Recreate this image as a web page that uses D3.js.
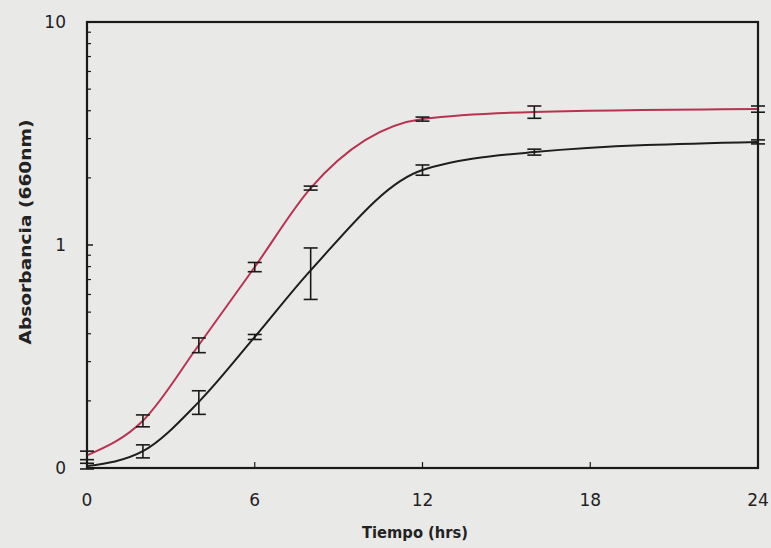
<!DOCTYPE html>
<html><head><meta charset="utf-8">
<script src="https://cdn.jsdelivr.net/npm/d3@7"></script>
<style>
html,body{margin:0;padding:0;background:#e9e9e8;}
svg{display:block;}
</style></head><body>
<script>
const hours = [0, 2, 4, 6, 8, 12, 16, 24];
const redValues = [0.114, 0.163, 0.356, 0.797, 1.80, 3.67, 3.95, 4.07];
const redErrors = [0.005, 0.010, 0.027, 0.038, 0.037, 0.077, 0.25, 0.13];
const blackValues = [0.102, 0.119, 0.198, 0.387, 0.77, 2.17, 2.61, 2.90];
const blackErrors = [0.003, 0.008, 0.024, 0.010, 0.20, 0.115, 0.08, 0.06];
const xTicks = [0, 6, 12, 18, 24];
const yTicks = [0.1, 1, 10];
const yTickLabels = ["0", "1", "10"];
const xTitle = "Tiempo (hrs)";
const yTitle = "Absorbancia (660nm)";

const W = 771, H = 548;
const m = {left: 87, top: 22, right: 13, bottom: 80};
const svg = d3.select("body").append("svg").attr("width", W).attr("height", H);
svg.append("rect").attr("width", W).attr("height", H).attr("fill", "#e9e9e8");

const x = d3.scaleLinear().domain([0, 24]).range([m.left, W - m.right]);
const y = d3.scaleLog().domain([0.1, 10]).range([H - m.bottom, m.top]);

const font = "'DejaVu Sans', 'Open Sans', sans-serif";

// frame
svg.append("rect").attr("x", x(0)).attr("y", y(10))
  .attr("width", x(24) - x(0)).attr("height", y(0.1) - y(10))
  .attr("fill", "none").attr("stroke", "#1a1a1a").attr("stroke-width", 2.2);

// y axis minor ticks (inside)
const minor = [];
[0.1, 1].forEach(d => { for (let k = 2; k <= 9; k++) minor.push(d * k); });
svg.append("g").selectAll("line").data(minor).join("line")
  .attr("x1", x(0)).attr("x2", x(0) + 4)
  .attr("y1", d => y(d)).attr("y2", d => y(d))
  .attr("stroke", "#1a1a1a").attr("stroke-width", 1.2);
svg.append("g").selectAll("line").data([1]).join("line")
  .attr("x1", x(0)).attr("x2", x(0) + 6)
  .attr("y1", d => y(d)).attr("y2", d => y(d))
  .attr("stroke", "#1a1a1a").attr("stroke-width", 1.5);

// x ticks inside
svg.append("g").selectAll("line").data(xTicks.slice(1, 4)).join("line")
  .attr("x1", d => x(d)).attr("x2", d => x(d))
  .attr("y1", y(0.1)).attr("y2", y(0.1) - 6)
  .attr("stroke", "#1a1a1a").attr("stroke-width", 1.2);

// tick labels
svg.append("g").selectAll("text").data(xTicks).join("text")
  .attr("x", d => x(d)).attr("y", y(0.1) + 38)
  .attr("text-anchor", "middle").attr("font-family", font)
  .attr("font-size", 17).attr("fill", "#222").text(d => d);
svg.append("g").selectAll("text").data(yTicks).join("text")
  .attr("x", x(0) - 21).attr("y", d => y(d) + 6)
  .attr("text-anchor", "end").attr("font-family", font)
  .attr("font-size", 17).attr("fill", "#222").text((d, i) => yTickLabels[i]);

// titles
svg.append("text").attr("x", 415).attr("y", 538)
  .attr("text-anchor", "middle").attr("font-family", font)
  .attr("font-weight", "bold").attr("font-size", 16)
  .attr("textLength", 106).attr("lengthAdjust", "spacingAndGlyphs")
  .attr("fill", "#222").text(xTitle);
svg.append("text").attr("transform", `translate(31,232) rotate(-90)`)
  .attr("text-anchor", "middle").attr("font-family", font)
  .attr("font-weight", "bold").attr("font-size", 16)
  .attr("textLength", 225).attr("lengthAdjust", "spacingAndGlyphs")
  .attr("fill", "#222").text(yTitle);

const line = d3.line().x(d => x(d.t)).y(d => y(d.v)).curve(d3.curveMonotoneX);

function series(values, errors, color) {
  const data = hours.map((t, i) => ({t, v: values[i], e: errors[i]}));
  svg.append("path").datum(data).attr("d", line)
    .attr("fill", "none").attr("stroke", color).attr("stroke-width", 2);
  const g = svg.append("g").attr("stroke", "#1a1a1a").attr("stroke-width", 1.6);
  data.forEach(d => {
    const y1 = y(d.v + d.e), y2 = y(d.v - d.e), cx = x(d.t), hw = 7;
    g.append("line").attr("x1", cx).attr("x2", cx).attr("y1", y1).attr("y2", y2);
    g.append("line").attr("x1", cx - hw).attr("x2", cx + hw).attr("y1", y1).attr("y2", y1);
    g.append("line").attr("x1", cx - hw).attr("x2", cx + hw).attr("y1", y2).attr("y2", y2);
  });
}
series(blackValues, blackErrors, "#1e1e1e");
series(redValues, redErrors, "#b8334f");
</script>
</body></html>
